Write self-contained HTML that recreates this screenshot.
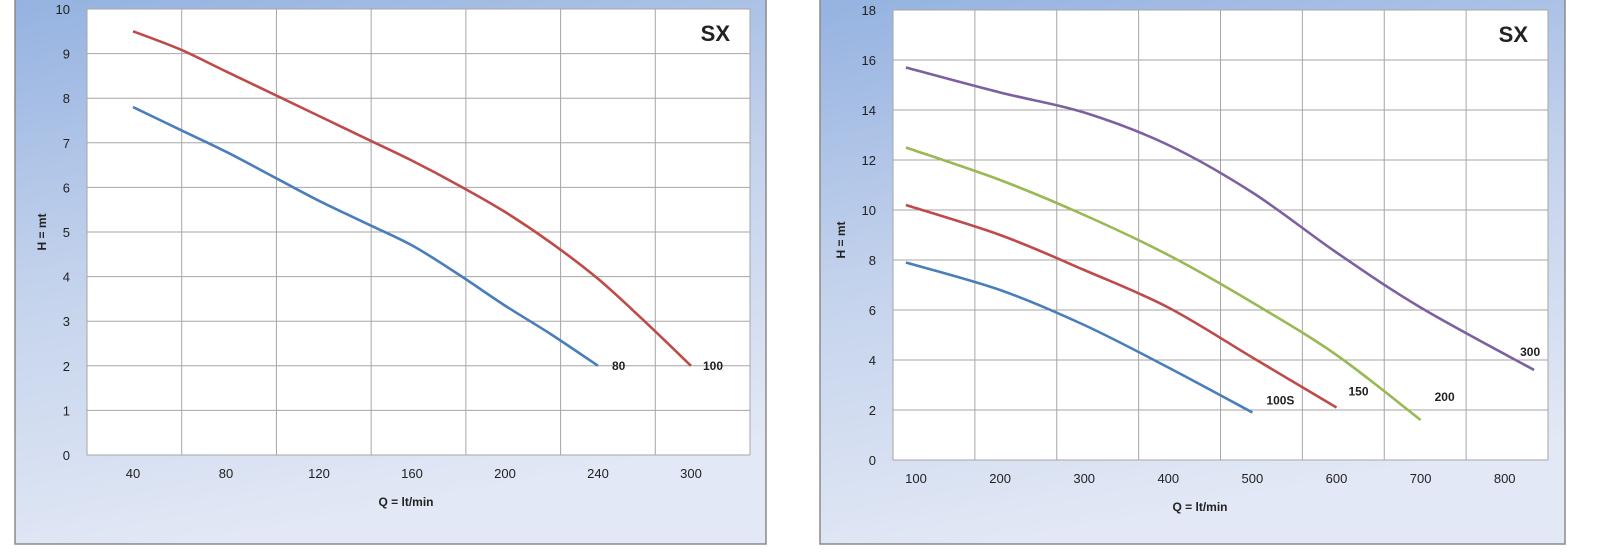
<!DOCTYPE html>
<html><head><meta charset="utf-8"><style>
body{margin:0;width:1600px;height:551px;background:#fff;overflow:hidden;font-family:"Liberation Sans",sans-serif}
</style></head><body>
<svg id="svg" width="1600" height="551" xmlns="http://www.w3.org/2000/svg">
<defs>
<linearGradient id="bg" x1="0" y1="0" x2="0.25" y2="1">
<stop offset="0" stop-color="#93b1e0"/><stop offset="0.5" stop-color="#c3d2ec"/><stop offset="1" stop-color="#e2e8f5"/>
</linearGradient>
</defs>
</svg>
<script>
// Left chart data
const leftCats=['40','80','120','160','200','240','300'];
const leftCatVals=[40,80,120,160,200,240,300];
const leftYTicks=[0,1,2,3,4,5,6,7,8,9,10];
const s80Q=[40,60,80,100,120,140,160,180,200,220,240];
const s80H=[7.8,7.3,6.8,6.25,5.7,5.2,4.7,4.05,3.35,2.7,2.0];
const s100Q=[40,60,80,100,120,140,160,180,200,220,240,270,300];
const s100H=[9.5,9.1,8.6,8.1,7.6,7.1,6.6,6.05,5.45,4.75,3.95,3.0,2.0];
// Right chart data
const rightCats=['100','200','300','400','500','600','700','800'];
const rightCatVals=[100,200,300,400,500,600,700,800];
const rightYTicks=[0,2,4,6,8,10,12,14,16,18];
const s100SQ=[88,200,300,400,500];
const s100SH=[7.9,6.8,5.4,3.7,1.9];
const s150Q=[88,200,300,400,500,600];
const s150H=[10.2,9.0,7.6,6.1,4.1,2.1];
const s200Q=[88,200,300,400,500,600,700];
const s200H=[12.5,11.2,9.8,8.2,6.3,4.2,1.6];
const s300Q=[88,200,300,400,500,600,700,835];
const s300H=[15.7,14.7,13.9,12.6,10.7,8.3,6.1,3.6];

const svg=document.getElementById('svg');
const NS='http://www.w3.org/2000/svg';
function mk(tag,attrs,name,parent){const e=document.createElementNS(NS,tag);for(const k in attrs)e.setAttribute(k,attrs[k]);


(parent||svg).appendChild(e);return e;}
function txt(x,y,s,name,opts){const t=mk('text',Object.assign({x:x,y:y,'font-size':13,fill:'#222','text-anchor':'middle','font-family':'"Liberation Sans",sans-serif'},opts||{}),name);t.textContent=s;return t;}
function smooth(pts){let d='M'+pts[0][0].toFixed(1)+' '+pts[0][1].toFixed(1);
  for(let i=0;i<pts.length-1;i++){const p0=pts[i-1]||pts[i],p1=pts[i],p2=pts[i+1],p3=pts[i+2]||p2;
    const c1=[p1[0]+(p2[0]-p0[0])/6,p1[1]+(p2[1]-p0[1])/6],c2=[p2[0]-(p3[0]-p1[0])/6,p2[1]-(p3[1]-p1[1])/6];
    d+=' C'+c1[0].toFixed(1)+' '+c1[1].toFixed(1)+' '+c2[0].toFixed(1)+' '+c2[1].toFixed(1)+' '+p2[0].toFixed(1)+' '+p2[1].toFixed(1);}
  return d;}

function chart(cfg){
  mk('rect',{x:cfg.fx,y:-10,width:cfg.fw,height:554,fill:'url(#bg)',stroke:'#8a8a8a','stroke-width':1.5},cfg.id+'-frame');
  mk('rect',{x:cfg.px0,y:cfg.py1,width:cfg.px1-cfg.px0,height:cfg.py0-cfg.py1,fill:'#fff'},cfg.id+'-plot-area');
  const yMax=cfg.yTicks[cfg.yTicks.length-1];
  const Y=v=>cfg.py0-(v/yMax)*(cfg.py0-cfg.py1);
  const X=cfg.X;
  const n=cfg.cats.length;const gw=(cfg.px1-cfg.px0)/n;
  for(let i=0;i<=n;i++){mk('line',{x1:cfg.px0+i*gw,y1:cfg.py1,x2:cfg.px0+i*gw,y2:cfg.py0,stroke:'#a6a6a6','stroke-width':1},cfg.id+'-vgrid');}
  cfg.yTicks.forEach(v=>{mk('line',{x1:cfg.px0,y1:Y(v),x2:cfg.px1,y2:Y(v),stroke:'#a6a6a6','stroke-width':1},cfg.id+'-hgrid');
    txt(cfg.px0-17,Y(v)+5,String(v),cfg.id+'-y-tick-label',{'text-anchor':'end'});});
  cfg.cats.forEach((c,i)=>txt(X(cfg.catVals[i]),cfg.py0+23,c,cfg.id+'-x-tick-label'));
  cfg.series.forEach(s=>{
    const pts=s.q.map((q,i)=>[X(q),Y(s.h[i])]);
    mk('path',{d:smooth(pts),fill:'none',stroke:s.color,'stroke-width':2.6,'stroke-linejoin':'round'},cfg.id+'-series-'+s.name);
    const lq=s.q[s.q.length-1],lh=s.h[s.h.length-1];
    txt(X(lq)+s.dx,Y(lh)+s.dy,s.name,cfg.id+'-series-label-'+s.name,{'font-weight':'bold','font-size':12,'text-anchor':'start'});
  });
  txt(cfg.px1-20,cfg.py1+32,'SX',cfg.id+'-title',{'font-weight':'bold','font-size':22,'text-anchor':'end'});
  txt(cfg.xtX,cfg.py0+51,'Q = lt/min',cfg.id+'-x-axis-title',{'font-weight':'bold','font-size':12});
  txt(cfg.ytX,cfg.ytY,'H = mt',cfg.id+'-y-axis-title',{'font-weight':'bold','font-size':12,transform:'rotate(-90 '+cfg.ytX+' '+cfg.ytY+')'});
}
function catScale(vals,x0,step){return q=>{for(let i=0;i<vals.length-1;i++){if(q<=vals[i+1]||i==vals.length-2){const f=(q-vals[i])/(vals[i+1]-vals[i]);return x0+(i+f)*step;}}};}
chart({id:'left',fx:15,fw:751,px0:87,px1:750,py0:455,py1:9,cats:leftCats,catVals:leftCatVals,yTicks:leftYTicks,
 X:catScale(leftCatVals,133,93),xtX:406,ytX:46,ytY:232,
 series:[{name:'80',q:s80Q,h:s80H,color:'#4a7ebb',dx:14,dy:4},{name:'100',q:s100Q,h:s100H,color:'#be4b48',dx:12,dy:4}]});
chart({id:'right',fx:820,fw:745,px0:893,px1:1548,py0:460,py1:10,cats:rightCats,catVals:rightCatVals,yTicks:rightYTicks,
 X:q=>916+(q-100)*0.841,xtX:1200,ytX:845,ytY:240,
 series:[{name:'100S',q:s100SQ,h:s100SH,color:'#4a7ebb',dx:14,dy:-8},{name:'150',q:s150Q,h:s150H,color:'#be4b48',dx:12,dy:-12},
 {name:'200',q:s200Q,h:s200H,color:'#98b954',dx:14,dy:-19},{name:'300',q:s300Q,h:s300H,color:'#7d60a0',dx:-14,dy:-14}]});
</script>
</body></html>
